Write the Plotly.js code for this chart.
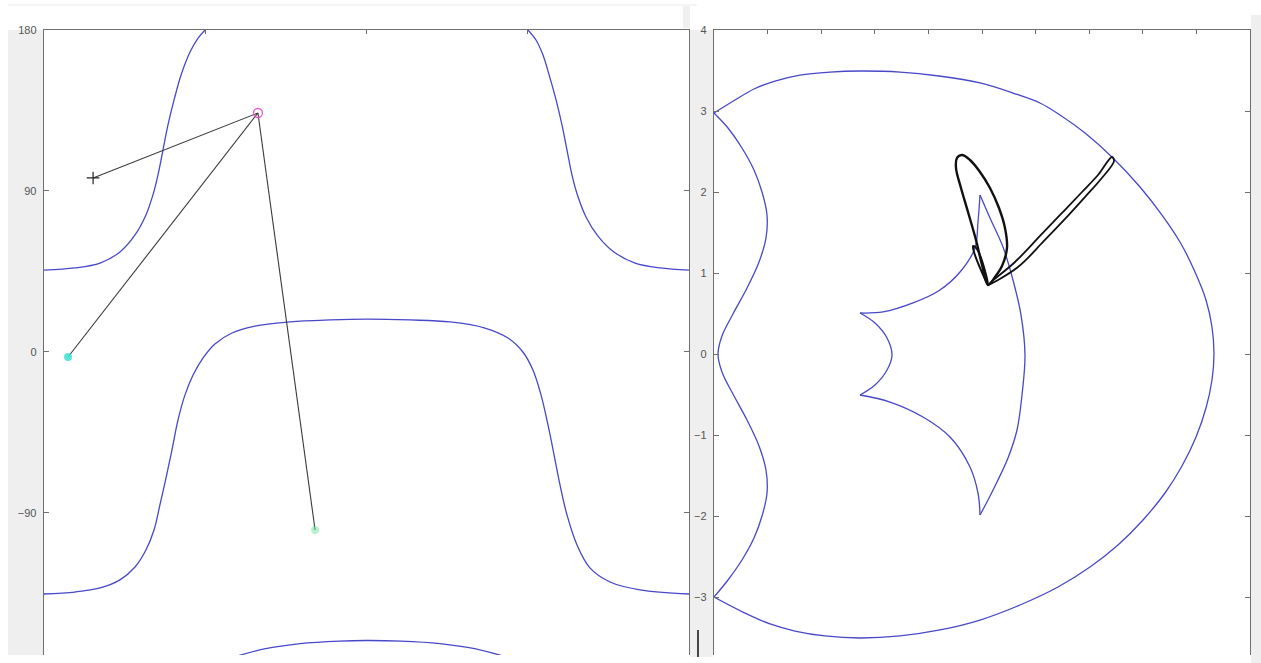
<!DOCTYPE html>
<html>
<head>
<meta charset="utf-8">
<script src="https://cdn.plot.ly/plotly-3.0.1.min.js"></script>
<style>
  html, body { margin: 0; padding: 0; background: #ffffff; overflow: hidden; }
  #chart { width: 1261px; height: 663px; }
</style>
</head>
<body>
<div id="chart"></div>
<script>
// ---- left panel (joint angles, degrees) ----
let leftTicks = [-90, 0, 90, 180];

let upperLeftX = [-180, -162.7, -148.7, -137.6, -129.2, -123.1, -119.2, -116.4, -113.6, -110.8, -107.4, -103.5, -98.5, -94.0, -90.1];
let upperLeftY = [45.8, 47.0, 49.7, 55.9, 65.4, 76.6, 87.8, 98.9, 112.9, 126.9, 140.9, 154.8, 167.7, 175.5, 180];

let upperRightX = [90.1, 94.6, 98.5, 102.4, 105.8, 109.1, 111.9, 114.7, 118.1, 122.5, 129.2, 138.1, 149.9, 163.8, 180];
let upperRightY = [180, 174.4, 166.0, 153.2, 140.9, 126.9, 112.9, 98.9, 86.6, 75.5, 64.8, 55.9, 49.7, 47.0, 45.8];

let middleX = [-180, -162.7, -148.7, -137.6, -129.2, -123.1, -118.6, -115.3, -111.9, -108.6, -105.2, -101.3, -96.8, -91.3, -84.6, -75.1, -62.2, -42.7, -20.4, -0.3, 24.3, 46.6, 66.1, 79.0, 87.3, 92.9, 97.4, 101.3, 104.7, 108.0, 111.9, 117.5, 124.7, 135.9, 152.6, 180];
let middleY = [-135.3, -134.2, -131.9, -127.4, -120.2, -110.7, -99.5, -85.5, -70.4, -54.8, -38.0, -24.0, -12.9, -3.4, 4.5, 10.6, 14.5, 16.8, 17.9, 18.4, 17.9, 16.8, 13.4, 7.8, 0, -10.1, -24.0, -40.8, -57.6, -74.3, -91.1, -107.9, -120.7, -128.6, -133.0, -135.3];

let bottomX = [-88, -74, -57, -37, -15, 0, 19, 41, 61, 78, 92];
let bottomY = [-175, -170.5, -166, -163, -161.6, -161.3, -161.6, -163, -166, -170.5, -175];

// arm segments: start (+), elbow (o), cyan point, green point
let armX = [-152.6, -60.6, null, -166.6, -60.6, null, -60.6, -28.7];
let armY = [97.3, 133.6, null, -2.8, 133.6, null, 133.6, -99.5];
let plusPt = [-152.6, 97.3];
let circlePt = [-60.6, 133.6];
let cyanPt = [-166.6, -2.8];
let greenPt = [-28.7, -99.5];

// ---- right panel (workspace) ----
let outerX = [-5.0, -4.608, -4.254, -3.862, -3.396, -2.836, -2.276, -1.530, -0.802, -0.037, 0.578, 1.082, 1.455, 1.922, 2.444, 2.948, 3.358, 3.694, 3.974, 4.179, 4.291, 4.328, 4.291, 4.179, 3.993, 3.731, 3.414, 3.004, 2.537, 2.015, 1.418, 0.709, -0.037, -0.784, -1.530, -2.276, -2.929, -3.489, -3.955, -4.422, -5.0];
let outerY = [2.975, 3.136, 3.272, 3.370, 3.444, 3.481, 3.494, 3.481, 3.432, 3.346, 3.222, 3.099, 2.951, 2.728, 2.420, 2.062, 1.716, 1.383, 1.012, 0.667, 0.333, 0, -0.321, -0.667, -1.025, -1.383, -1.716, -2.049, -2.358, -2.630, -2.877, -3.099, -3.284, -3.407, -3.481, -3.506, -3.481, -3.420, -3.333, -3.198, -3.000];

let wavyX = [-5.0, -4.739, -4.478, -4.254, -4.104, -4.011, -4.030, -4.160, -4.384, -4.646, -4.851, -4.925, -4.851, -4.646, -4.384, -4.160, -4.030, -4.011, -4.104, -4.254, -4.478, -4.739, -5.0];
let wavyY = [2.975, 2.790, 2.543, 2.272, 2.0, 1.716, 1.432, 1.136, 0.815, 0.494, 0.222, 0, -0.222, -0.494, -0.815, -1.136, -1.432, -1.716, -2.0, -2.272, -2.543, -2.790, -3.0];

// inner star, one array pair per arc between cusps
let starUpperX = [-2.276, -1.847, -1.287, -0.784, -0.410, -0.131, -0.075, -0.037];
let starUpperY = [0.506, 0.519, 0.630, 0.790, 1.012, 1.309, 1.630, 1.963];
let starRightX = [-0.037, 0.149, 0.392, 0.578, 0.728, 0.802, 0.746, 0.653, 0.485, 0.280, 0.112, -0.037];
let starRightY = [1.963, 1.679, 1.321, 0.914, 0.481, -0.012, -0.506, -0.938, -1.284, -1.580, -1.802, -1.988];
let starLowerX = [-0.037, -0.075, -0.224, -0.597, -1.101, -1.716, -2.276];
let starLowerY = [-1.988, -1.716, -1.395, -1.025, -0.778, -0.593, -0.506];
let starInnerX = [-2.276, -1.996, -1.772, -1.679, -1.772, -1.996, -2.276];
let starInnerY = [-0.506, -0.383, -0.198, -0.012, 0.198, 0.383, 0.506];

let loopX = [0.112, 0, -0.112, -0.261, -0.392, -0.485, -0.466, -0.373, -0.224, -0.037, 0.149, 0.317, 0.429, 0.466, 0.373, 0.243, 0.112];
let loopY = [0.852, 1.099, 1.407, 1.753, 2.049, 2.296, 2.420, 2.457, 2.395, 2.247, 2.049, 1.802, 1.556, 1.309, 1.086, 0.951, 0.852];

let smallLoopX = [0.112, -0.037, -0.149, -0.168, -0.093, 0.019, 0.112];
let smallLoopY = [0.852, 1.062, 1.259, 1.333, 1.296, 1.111, 0.852];

let bandX = [0.112, 0.616, 1.082, 1.493, 1.866, 2.164, 2.425, 2.463, 2.220, 1.922, 1.549, 1.138, 0.672, 0.112];
let bandY = [0.852, 1.136, 1.457, 1.741, 2.0, 2.210, 2.432, 2.383, 2.160, 1.938, 1.667, 1.383, 1.074, 0.852];

// page geometry helpers (pixels -> paper)
const W = 1261, H = 663;
const px = v => v / W;
const py = v => 1 - v / H;

const blue = 'rgb(72,72,200)';

function curve(x, y, axes, color, width) {
    return {
        x: x, y: y, mode: 'lines',
        xaxis: axes[0], yaxis: axes[1],
        line: {color: color, width: width, shape: 'spline', smoothing: 1}
    };
}
const L = ['x', 'y'], R = ['x2', 'y2'];

let traces = [
    curve(upperLeftX, upperLeftY, L, blue, 1.3),
    curve(upperRightX, upperRightY, L, blue, 1.3),
    curve(middleX, middleY, L, blue, 1.3),
    curve(bottomX, bottomY, L, blue, 1.3),
    {x: armX, y: armY, mode: 'lines', line: {color: '#3a3a3a', width: 1.1}},
    {x: [plusPt[0]], y: [plusPt[1]], mode: 'markers',
     marker: {symbol: 'cross-thin-open', size: 9, color: '#222', line: {color: '#222', width: 1.2}}},
    {x: [circlePt[0]], y: [circlePt[1]], mode: 'markers',
     marker: {symbol: 'circle-open', size: 9, color: 'rgb(228,90,200)', line: {width: 1.3}}},
    {x: [cyanPt[0]], y: [cyanPt[1]], mode: 'markers',
     marker: {symbol: 'circle', size: 8, color: 'rgba(64,224,210,0.85)'}},
    {x: [greenPt[0]], y: [greenPt[1]], mode: 'markers',
     marker: {symbol: 'circle', size: 8, color: 'rgba(110,230,160,0.5)'}},

    curve(outerX, outerY, R, blue, 1.3),
    curve(wavyX, wavyY, R, blue, 1.3),
    curve(starUpperX, starUpperY, R, blue, 1.3),
    curve(starRightX, starRightY, R, blue, 1.3),
    curve(starLowerX, starLowerY, R, blue, 1.3),
    curve(starInnerX, starInnerY, R, blue, 1.3),
    curve(loopX, loopY, R, '#111', 2.4),
    curve(smallLoopX, smallLoopY, R, '#111', 2),
    curve(bandX, bandY, R, '#111', 1.8)
];

let frameAxis = {
    showline: true, linecolor: '#707070', linewidth: 1.3,
    ticks: 'inside', tickcolor: '#707070', ticklen: 5,
    showgrid: false, zeroline: false, fixedrange: true,
    tickfont: {family: 'Liberation Sans, Arial, sans-serif', size: 11, color: '#555'}
};

let layout = {
    width: W, height: H,
    margin: {l: 0, r: 0, t: 0, b: 0},
    paper_bgcolor: '#ffffff', plot_bgcolor: '#ffffff',
    showlegend: false, hovermode: false,
    xaxis: Object.assign({}, frameAxis, {
        domain: [px(44), px(689)], range: [-180, 180], side: 'top',
        tickvals: [-90, 0, 90], showticklabels: false, mirror: false, ticklen: 4
    }),
    yaxis: Object.assign({}, frameAxis, {
        domain: [py(655), py(30)], range: [-169.4, 180],
        tickvals: leftTicks, mirror: 'ticks', ticklabelstandoff: 4
    }),
    xaxis2: Object.assign({}, frameAxis, {
        domain: [px(714), px(1250)], range: [-5, 5], dtick: 1, side: 'top',
        showticklabels: false, mirror: false, ticklen: 4, anchor: 'y2'
    }),
    yaxis2: Object.assign({}, frameAxis, {
        domain: [py(655), py(30)], range: [-3.716, 4], dtick: 1,
        mirror: 'ticks', anchor: 'x2', ticklabelstandoff: 4
    }),
    shapes: [
        // grey window strips around the axes
        {type: 'rect', xref: 'paper', yref: 'paper', x0: px(8), x1: px(43), y0: py(655), y1: py(30),
         fillcolor: '#efefef', line: {width: 0}, layer: 'below'},
        {type: 'rect', xref: 'paper', yref: 'paper', x0: px(690), x1: px(713), y0: py(657), y1: py(30),
         fillcolor: '#efefef', line: {width: 0}, layer: 'below'},
        {type: 'rect', xref: 'paper', yref: 'paper', x0: px(1251), x1: px(1261), y0: py(663), y1: py(15),
         fillcolor: '#efefef', line: {width: 0}, layer: 'below'},
        {type: 'rect', xref: 'paper', yref: 'paper', x0: px(683), x1: px(690), y0: py(28), y1: py(6),
         fillcolor: '#f0f0f0', line: {width: 0}, layer: 'below'},
        {type: 'line', xref: 'paper', yref: 'paper', x0: px(8), x1: px(697), y0: py(5), y1: py(5),
         line: {color: '#ececec', width: 1}, layer: 'below'},
        // cursor mark between the panels
        {type: 'line', xref: 'paper', yref: 'paper', x0: px(698), x1: px(698), y0: py(630), y1: py(657),
         line: {color: '#111', width: 1.5}}
    ]
};

Plotly.newPlot('chart', traces, layout, {staticPlot: true, displayModeBar: false});
</script>
</body>
</html>
